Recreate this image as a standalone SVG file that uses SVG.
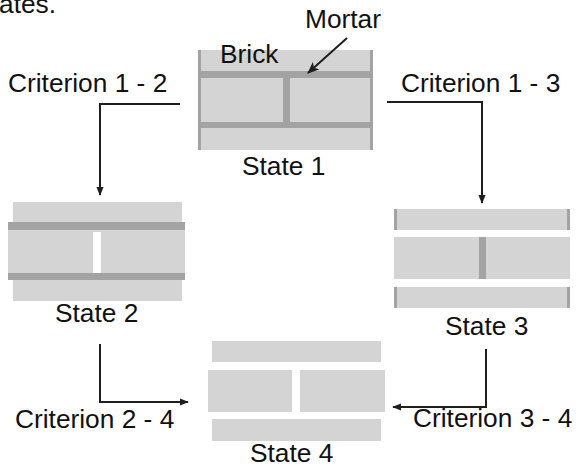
<svg xmlns="http://www.w3.org/2000/svg" width="576" height="468" viewBox="0 0 576 468">
<style>
text{font-family:"Liberation Sans",Arial,sans-serif;font-size:26.3px;fill:#111}
.b{fill:#d4d4d4}
.m{fill:#a3a3a3}
.c{fill:none;stroke:#1e1e1e;stroke-width:2}
</style>
<defs>
<marker id="ah" viewBox="0 0 10 8" refX="9" refY="4" markerWidth="4.5" markerHeight="4" orient="auto" markerUnits="strokeWidth">
<path d="M0,0 L10,4 L0,8 Z" fill="#1e1e1e"/>
</marker>
<marker id="ah2" viewBox="0 0 12 10" refX="11" refY="5" markerWidth="6" markerHeight="5" orient="auto" markerUnits="strokeWidth">
<path d="M0,0 L12,5 L0,10 L3,5 Z" fill="#1e1e1e"/>
</marker>
</defs>
<rect width="576" height="468" fill="#fff"/>
<text x="-1" y="13">ates.</text>
<g id="state1">
<rect class="b" x="198" y="50" width="175" height="100"/>
<rect class="m" x="198" y="71" width="175" height="7"/>
<rect class="m" x="198" y="122" width="175" height="6"/>
<rect class="m" x="283" y="78" width="7" height="44"/>
<rect class="m" x="198" y="50" width="3" height="100"/>
<rect class="m" x="370" y="50" width="3" height="100"/>
<text x="220" y="63">Brick</text>
<text x="242" y="175">State 1</text>
</g>
<g id="mortar-label">
<text x="305" y="28">Mortar</text>
</g>
<g id="state2">
<rect class="b" x="13" y="202" width="169" height="20"/>
<rect class="m" x="8" y="222" width="177" height="8"/>
<rect class="b" x="8" y="230" width="177" height="43"/>
<rect fill="#fff" x="93" y="232" width="8" height="41"/>
<rect class="m" x="8" y="273" width="177" height="7"/>
<rect class="b" x="13" y="280" width="169" height="21"/>
<text x="55" y="322">State 2</text>
</g>
<g id="state3">
<rect class="b" x="394" y="209" width="176" height="21"/>
<rect class="m" x="394" y="209" width="3" height="21"/>
<rect class="m" x="567" y="209" width="3" height="21"/>
<rect class="b" x="394" y="237" width="176" height="42"/>
<rect class="m" x="479" y="237" width="7" height="42"/>
<rect class="b" x="394" y="287" width="176" height="21"/>
<rect class="m" x="394" y="287" width="3" height="21"/>
<rect class="m" x="567" y="287" width="3" height="21"/>
<text x="445" y="335">State 3</text>
</g>
<g id="state4">
<rect class="b" x="212" y="341" width="169" height="21"/>
<rect class="b" x="208" y="370" width="84" height="42"/>
<rect class="b" x="300" y="370" width="85" height="42"/>
<rect class="b" x="212" y="419" width="169" height="22"/>
<text x="250" y="462">State 4</text>
</g>
<g id="labels">
<text x="8" y="92">Criterion 1 - 2</text>
<text x="401" y="92">Criterion 1 - 3</text>
<text x="15" y="428">Criterion 2 - 4</text>
<text x="413" y="427">Criterion 3 - 4</text>
</g>
<g id="connectors">
<path class="c" d="M180,104 H100 V195" marker-end="url(#ah)"/>
<path class="c" d="M387,102 H482 V203" marker-end="url(#ah)"/>
<path class="c" d="M100,344 V402 H188" marker-end="url(#ah)"/>
<path class="c" d="M486,349 V407 H393" marker-end="url(#ah)"/>
<path class="c" d="M347,38 L308,73" marker-end="url(#ah2)"/>
</g>
</svg>
